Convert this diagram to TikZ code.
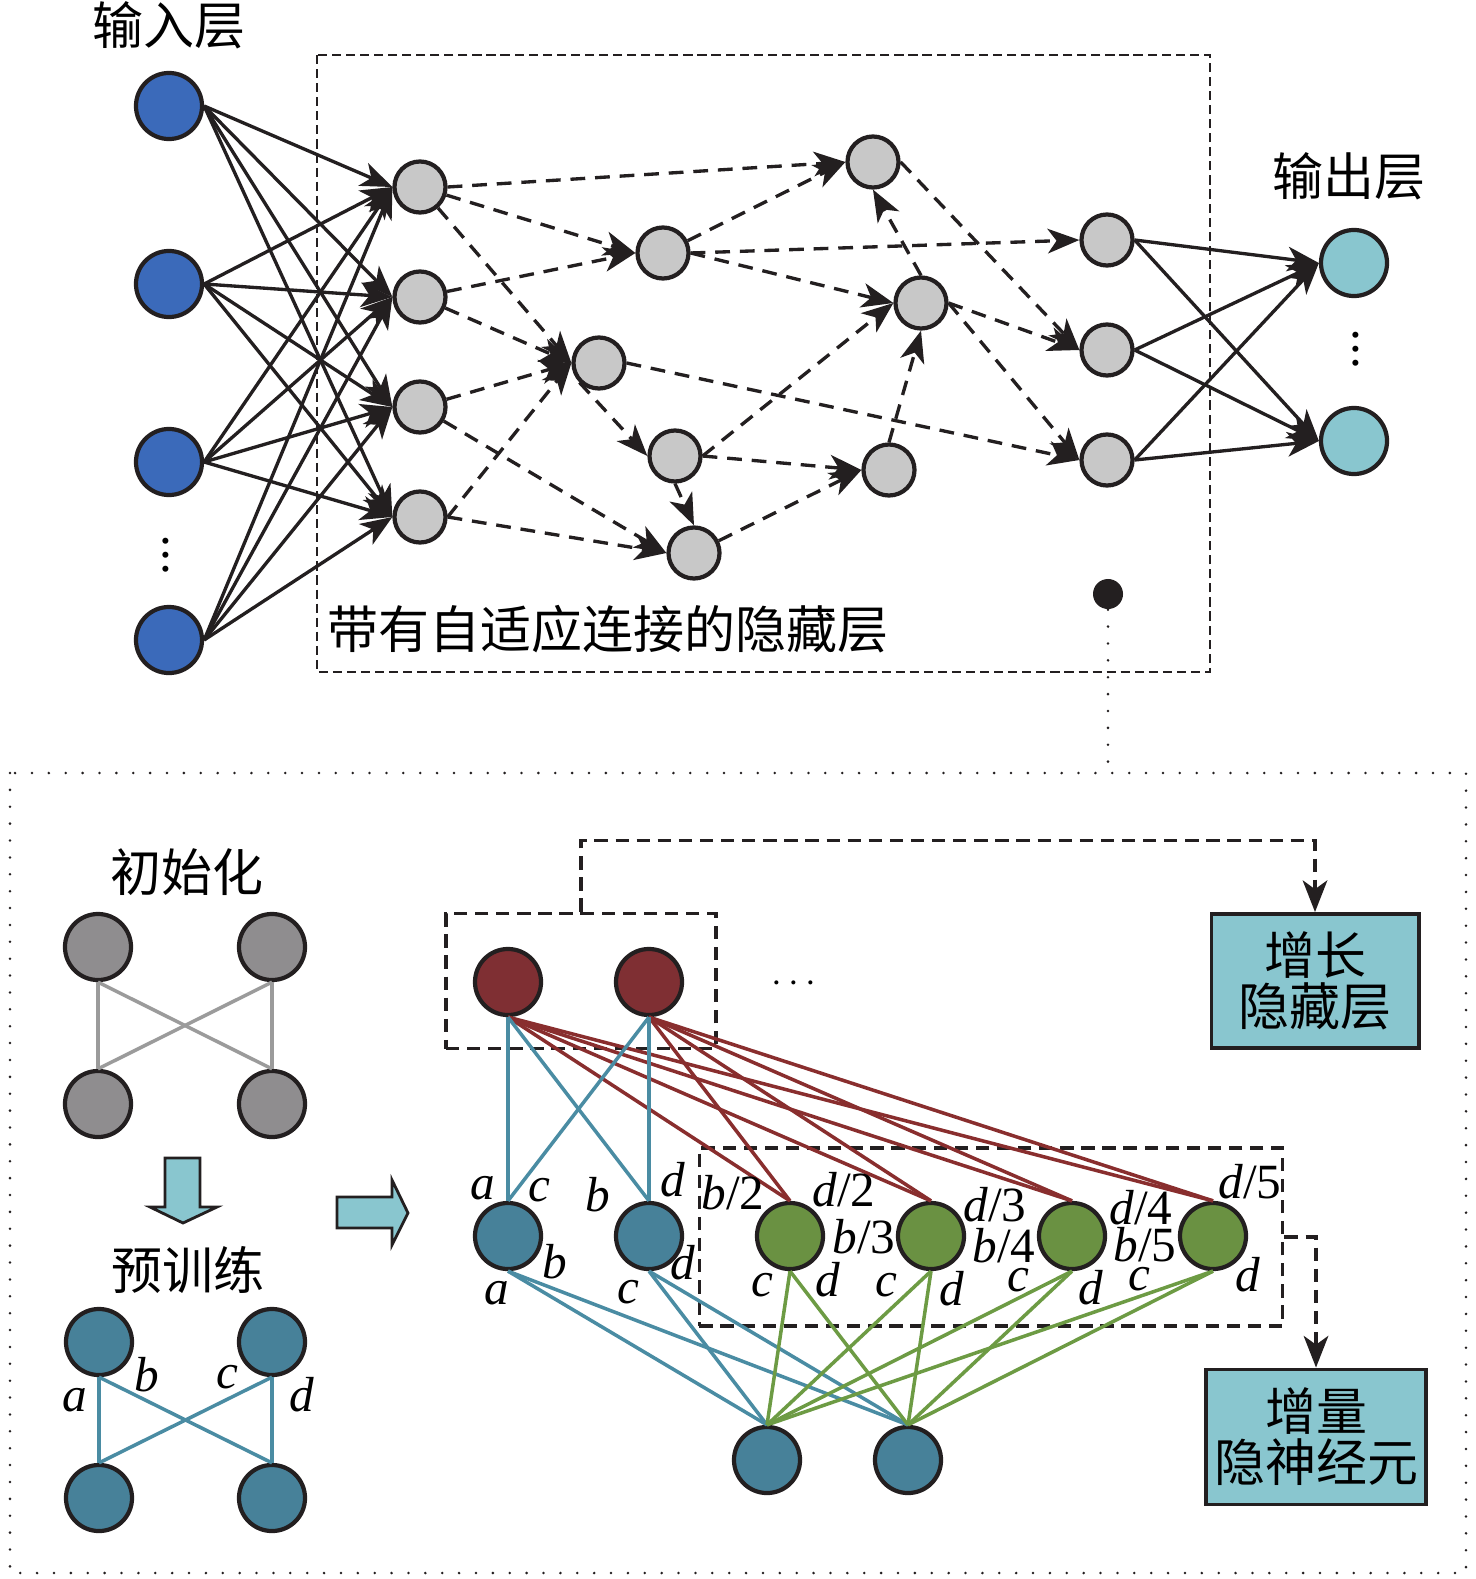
\documentclass[tikz,border=0pt]{standalone}
\usepackage{fontspec}
\setmainfont{Liberation Serif}
\newfontfamily\zh{Noto Sans CJK SC}
\usetikzlibrary{arrows.meta}

\definecolor{inblue}{RGB}{59,106,186}
\definecolor{hidgray}{RGB}{200,200,200}
\definecolor{outcyan}{RGB}{137,198,207}
\definecolor{initgray}{RGB}{143,141,143}
\definecolor{nteal}{RGB}{71,129,153}
\definecolor{nred}{RGB}{127,47,51}
\definecolor{ngreen}{RGB}{106,145,66}
\definecolor{lteal}{RGB}{74,140,163}
\definecolor{lred}{RGB}{137,46,46}
\definecolor{lgreen}{RGB}{109,155,68}
\definecolor{lgray}{RGB}{155,155,155}
\definecolor{inkblack}{RGB}{35,31,32}

\begin{document}
\begin{tikzpicture}[x=0.01cm, y=-0.01cm,
		zhtext/.style={font=\fontsize{14.5pt}{14.5pt}\selectfont\zh, inner sep=0pt},
		lbl/.style={font=\fontsize{14pt}{16pt}\selectfont, inner sep=0pt},
		neuron/.style={circle, draw=inkblack, line width=1.2pt, minimum size=0.66cm, inner sep=0pt},
		hid/.style={neuron, fill=hidgray, minimum size=0.51cm},
		conn/.style={inkblack, line width=0.95pt, -{Stealth[length=9pt, width=7pt, inset=2.5pt]}},
		dconn/.style={conn, dash pattern=on 4.2pt off 2.8pt},
		tbox/.style={inkblack, line width=0.8pt, dash pattern=on 2.6pt off 1.4pt},
		dbox/.style={draw=inkblack, line width=1pt, dash pattern=on 3.8pt off 2.2pt, inner sep=0pt},
		dpath/.style={inkblack, line width=1pt, dash pattern=on 3.8pt off 2.2pt, -{Stealth[length=9pt, width=7pt, inset=2.5pt]}},
		dotline/.style={inkblack, line width=0.8pt, line cap=round, dash pattern=on 0pt off 4.8pt},
		cbox/.style={draw=inkblack, fill=outcyan, line width=1.1pt, align=center, inner sep=1pt, font=\fontsize{14.5pt}{14.5pt}\selectfont\zh},
		blockarr/.style={draw=inkblack, fill=outcyan, line width=0.8pt, line join=miter},
		tlink/.style={lteal, line width=1pt},
		rlink/.style={lred, line width=1pt},
		glinks/.style={lgreen, line width=1pt},
		grlink/.style={lgray, line width=1pt}]
	\useasboundingbox (0,0) rectangle (1476,1579);

	% upper network
	\draw[tbox] (317,55) rectangle (1210,672);
	\node[zhtext] (inlbl) at (169,25) {输入层};
	\node[zhtext] (outlbl) at (1349,176) {输出层};
	\node[zhtext, anchor=west] (hidlbl) at (327,629) {带有自适应连接的隐藏层};

	\node[neuron, fill=inblue] (i1) at (169,106) {};
	\node[neuron, fill=inblue] (i2) at (169,284) {};
	\node[neuron, fill=inblue] (i3) at (169,462) {};
	\node[neuron, fill=inblue] (i4) at (169,640) {};
	\node[font=\fontsize{14.5pt}{17pt}\selectfont] (idots) at (166,545) {$\vdots$};

	\node[hid] (h1) at (420,187) {};
	\node[hid] (h2) at (420,297) {};
	\node[hid] (h3) at (420,407) {};
	\node[hid] (h4) at (420,517) {};
	\node[hid] (m1) at (663,253) {};
	\node[hid] (m2) at (599,363) {};
	\node[hid] (m3) at (675,456) {};
	\node[hid] (m4) at (694,553) {};
	\node[hid] (t1) at (873,162) {};
	\node[hid] (t2) at (921,303) {};
	\node[hid] (t3) at (889,470) {};
	\node[hid] (o1) at (1107,240) {};
	\node[hid] (o2) at (1107,350) {};
	\node[hid] (o3) at (1107,460) {};

	\node[neuron, fill=outcyan] (y1) at (1354,263) {};
	\node[neuron, fill=outcyan] (y2) at (1354,441) {};
	\node[font=\fontsize{14.5pt}{17pt}\selectfont] (ydots) at (1356,339) {$\vdots$};

	\foreach \i in {1,...,4}
		\foreach \h in {1,...,4}
			\draw[conn] (i\i.east) -- (h\h.west);

	\draw[dconn] (h1.east) -- (t1.west);
	\draw[dconn] (h1) -- (m1.west);
	\draw[dconn] (h1) -- (m2.west);
	\draw[dconn] (h2) -- (m1.west);
	\draw[dconn] (h2) -- (m2.west);
	\draw[dconn] (h3) -- (m2.west);
	\draw[dconn] (h3) -- (m4.west);
	\draw[dconn] (h4.east) -- (m2.west);
	\draw[dconn] (h4.east) -- (m4.west);
	\draw[dconn] (m1) -- (t1.west);
	\draw[dconn] (m1.east) -- (t2.west);
	\draw[dconn] (m1.east) -- (o1.west);
	\draw[dconn] (m2.south west) -- (m3.west);
	\draw[dconn] (m2.east) -- (o3.west);
	\draw[dconn] (m3.south) -- (m4.north);
	\draw[dconn] (m3.east) -- (t2.west);
	\draw[dconn] (m3.east) -- (t3.west);
	\draw[dconn] (m4) -- (t3.west);
	\draw[dconn] (t3.north) -- (t2.south);
	\draw[dconn] (t2.north) -- (t1.south);
	\draw[dconn] (t1.east) -- (o2.west);
	\draw[dconn] (t2.east) -- (o2.west);
	\draw[dconn] (t2.east) -- (o3.west);

	\foreach \o in {1,2,3}
		\foreach \y in {1,2}
			\draw[conn] (o\o.east) -- (y\y.west);

	\node[circle, fill=inkblack, minimum size=0.3cm, inner sep=0pt] (blk) at (1108,594) {};
	\coordinate (blkend) at (1108,773);
	\draw[dotline] (blk) -- (blkend);

	% lower panel
	\draw[dotline] (10,773) rectangle (1466,1573);

	\node[zhtext] (initlbl) at (187,872) {初始化};
	\node[neuron, fill=initgray] (g1) at (98,947) {};
	\node[neuron, fill=initgray] (g2) at (272,947) {};
	\node[neuron, fill=initgray] (g3) at (98,1104) {};
	\node[neuron, fill=initgray] (g4) at (272,1104) {};
	\draw[grlink] (g1.south) -- (g3.north);
	\draw[grlink] (g1.south) -- (g4.north);
	\draw[grlink] (g2.south) -- (g3.north);
	\draw[grlink] (g2.south) -- (g4.north);

	\draw[blockarr] (165,1158) -- (200,1158) -- (200,1207) -- (217,1207) -- (183,1223) -- (150,1207) -- (165,1207) -- cycle;
	\draw[blockarr] (337,1197) -- (392,1197) -- (392,1180) -- (408,1213) -- (392,1245) -- (392,1228) -- (337,1228) -- cycle;

	\node[zhtext] (prelbl) at (188,1270) {预训练};
	\node[neuron, fill=nteal] (p1) at (99,1342) {};
	\node[neuron, fill=nteal] (p2) at (272,1342) {};
	\node[neuron, fill=nteal] (p3) at (99,1498) {};
	\node[neuron, fill=nteal] (p4) at (272,1498) {};
	\draw[tlink] (p1.south) -- (p3.north);
	\draw[tlink] (p1.south) -- (p4.north);
	\draw[tlink] (p2.south) -- (p3.north);
	\draw[tlink] (p2.south) -- (p4.north);
	\node[lbl] (pa) at (75,1400) {\textit{a}};
	\node[lbl] (pb) at (147,1375) {\textit{b}};
	\node[lbl] (pc) at (227,1377) {\textit{c}};
	\node[lbl] (pd) at (302,1395) {\textit{d}};

	\node[dbox, minimum width=2.70cm, minimum height=1.35cm] (rbox) at (581,981) {};
	\node[dbox, minimum width=5.83cm, minimum height=1.78cm] (gbox) at (991,1237) {};
	\node[neuron, fill=nred] (r1) at (508,982) {};
	\node[neuron, fill=nred] (r2) at (649,982) {};
	\node[font=\fontsize{11pt}{13pt}\selectfont] (rdots) at (794,984) {$\cdots$};

	\node[neuron, fill=nteal] (q1) at (508,1236) {};
	\node[neuron, fill=nteal] (q2) at (649,1236) {};
	\node[neuron, fill=ngreen] (n1) at (790,1236) {};
	\node[neuron, fill=ngreen] (n2) at (931,1236) {};
	\node[neuron, fill=ngreen] (n3) at (1072,1236) {};
	\node[neuron, fill=ngreen] (n4) at (1213,1236) {};
	\node[neuron, fill=nteal] (u1) at (767,1460) {};
	\node[neuron, fill=nteal] (u2) at (908,1460) {};

	\foreach \r in {1,2}
		\foreach \n in {1,...,4}
			\draw[rlink] (r\r.south) -- (n\n.north);
	\foreach \r in {1,2}
		\foreach \q in {1,2}
			\draw[tlink] (r\r.south) -- (q\q.north);
	\foreach \q in {1,2}
		\foreach \u in {1,2}
			\draw[tlink] (q\q.south) -- (u\u.north);
	\foreach \n in {1,...,4}
		\foreach \u in {1,2}
			\draw[glinks] (n\n.south) -- (u\u.north);

	\node[lbl] (qa) at (483,1188) {\textit{a}};
	\node[lbl] (qc) at (539,1190) {\textit{c}};
	\node[lbl] (qb) at (598,1195) {\textit{b}};
	\node[lbl] (qd) at (673,1180) {\textit{d}};
	\node[lbl] (qb2) at (555,1262) {\textit{b}};
	\node[lbl] (qa2) at (497,1293) {\textit{a}};
	\node[lbl] (qd2) at (683,1263) {\textit{d}};
	\node[lbl] (qc2) at (628,1292) {\textit{c}};

	\node[lbl] (nb2) at (733,1193) {\textit{b}/2};
	\node[lbl] (nd2) at (844,1190) {\textit{d}/2};
	\node[lbl] (nb3) at (864,1237) {\textit{b}/3};
	\node[lbl] (nd3) at (995,1205) {\textit{d}/3};
	\node[lbl] (nb4) at (1004,1246) {\textit{b}/4};
	\node[lbl] (nd4) at (1141,1208) {\textit{d}/4};
	\node[lbl] (nb5) at (1145,1245) {\textit{b}/5};
	\node[lbl] (nd5) at (1250,1182) {\textit{d}/5};
	\node[lbl] (nc1) at (762,1285) {\textit{c}};
	\node[lbl] (ndd1) at (828,1280) {\textit{d}};
	\node[lbl] (nc2) at (886,1285) {\textit{c}};
	\node[lbl] (ndd2) at (952,1289) {\textit{d}};
	\node[lbl] (nc3) at (1018,1280) {\textit{c}};
	\node[lbl] (ndd3) at (1091,1288) {\textit{d}};
	\node[lbl] (nc4) at (1139,1279) {\textit{c}};
	\node[lbl] (ndd4) at (1248,1275) {\textit{d}};

	\node[cbox, minimum width=2.07cm, minimum height=1.34cm] (grow) at (1315,981) {增长\\隐藏层};
	\node[cbox, minimum width=2.20cm, minimum height=1.35cm] (incr) at (1316,1437) {增量\\隐神经元};
	\draw[dpath] (rbox.north) -- ++(0,-71) -| (grow.north);
	\draw[dpath] (gbox.east) -| (incr.north);

\end{tikzpicture}
\end{document}
